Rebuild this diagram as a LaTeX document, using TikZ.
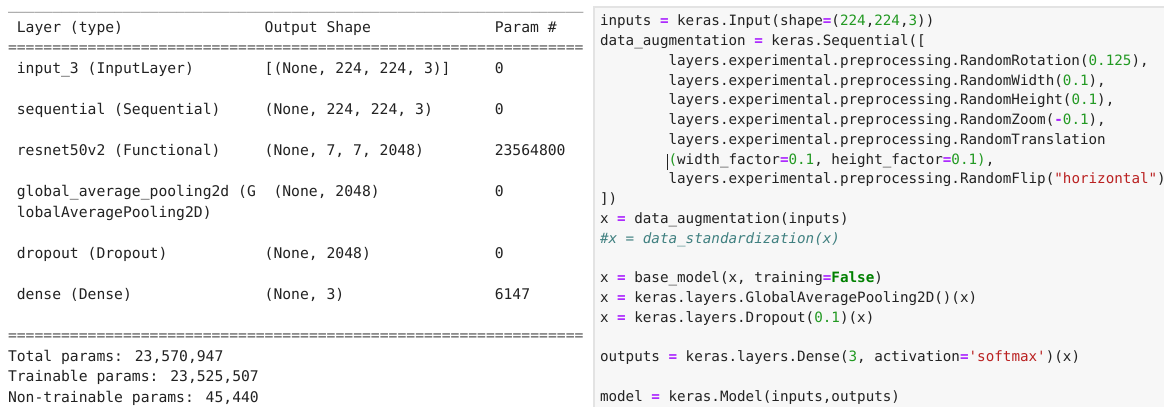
\documentclass[tikz,border=0pt]{standalone}
\usepackage{fontspec}
\newfontfamily\monofam{DejaVu Sans Mono}
\definecolor{txt}{HTML}{222222}
\definecolor{rulec}{HTML}{555555}
\definecolor{opc}{HTML}{AA22FF}
\definecolor{numc}{HTML}{229922}
\definecolor{strc}{HTML}{BA2121}
\definecolor{cmtc}{HTML}{408080}
\definecolor{kwc}{HTML}{008000}
\definecolor{cellbg}{HTML}{F7F7F7}
\definecolor{cellline}{HTML}{E3E3E3}
\newcommand\sumfont{\monofam\fontsize{11.03pt}{13pt}\selectfont}
\newcommand\codefont{\monofam\fontsize{10.68pt}{13pt}\selectfont}
\newcommand\eqop{{\color{opc}\bfseries =}}
\newcommand\mop{{\color{opc}\bfseries -}}
\newcommand\cnum[1]{{\color{numc}#1}}
\newcommand\cstr[1]{{\color{strc}#1}}
\newcommand\ckw[1]{{\color{kwc}\bfseries #1}}
\newcommand\tenEq{==========}
\newcommand\tenUs{\_\_\_\_\_\_\_\_\_\_}
\newcommand\pre{layers.experimental.preprocessing.}
\begin{document}
\begin{tikzpicture}[x=0.75pt,y=-0.75pt,
  sum/.style={anchor=base west,inner sep=0pt,outer sep=0pt,text=txt,font=\sumfont},
  sumrule/.style={sum,text=rulec},
  code/.style={anchor=base west,inner sep=0pt,outer sep=0pt,text=txt,font=\codefont}]
\useasboundingbox (0,0) rectangle (1164,407);
\fill[white] (0,0) rectangle (1164,407);

% ---- model summary (columns at 0, 1, 29, 55 characters of 8.85px) ----
\node[sumrule] (topline) at (8,9) {\tenUs\tenUs\tenUs\tenUs\tenUs\tenUs\_\_\_\_\_};
\node[sum] (h1) at (16.85,32) {Layer (type)};
\node[sum] (h2) at (264.65,32) {Output Shape};
\node[sum] (h3) at (494.75,32) {Param \#};
\node[sumrule] (eq1) at (8,52.6) {\tenEq\tenEq\tenEq\tenEq\tenEq\tenEq=====};
\node[sum] (r1a) at (16.85,73.1) {input\_3 (InputLayer)};
\node[sum] (r1b) at (264.65,73.1) {[(None, 224, 224, 3)]};
\node[sum] (r1c) at (494.75,73.1) {0};
\node[sum] (r2a) at (16.85,114.2) {sequential (Sequential)};
\node[sum] (r2b) at (264.65,114.2) {(None, 224, 224, 3)};
\node[sum] (r2c) at (494.75,114.2) {0};
\node[sum] (r3a) at (16.85,155.4) {resnet50v2 (Functional)};
\node[sum] (r3b) at (264.65,155.4) {(None, 7, 7, 2048)};
\node[sum] (r3c) at (494.75,155.4) {23564800};
\node[sum] (r4a) at (16.85,196.5) {global\_average\_pooling2d (G};
\node[sum] (r4b) at (273.5,196.5) {(None, 2048)};
\node[sum] (r4c) at (494.75,196.5) {0};
\node[sum] (r4d) at (16.85,217) {lobalAveragePooling2D)};
\node[sum] (r5a) at (16.85,258.2) {dropout (Dropout)};
\node[sum] (r5b) at (264.65,258.2) {(None, 2048)};
\node[sum] (r5c) at (494.75,258.2) {0};
\node[sum] (r6a) at (16.85,299.3) {dense (Dense)};
\node[sum] (r6b) at (264.65,299.3) {(None, 3)};
\node[sum] (r6c) at (494.75,299.3) {6147};
\node[sumrule] (eq2) at (8,340.4) {\tenEq\tenEq\tenEq\tenEq\tenEq\tenEq=====};
\node[sum] (tot) at (8,361) {Total params: 23,570,947};
\node[sum] (trn) at (8,381.5) {Trainable params: 23,525,507};
\node[sum] (ntr) at (8,402) {Non-trainable params: 45,440};

% ---- code cell ----
\path[fill=cellbg,draw=cellline,line width=0.8pt] (594,7) rectangle (1170,412);
\node[code] (c0) at (600,26) {inputs \eqop{} keras.Input(shape\eqop(\cnum{224},\cnum{224},\cnum{3}))};
\node[code] (c1) at (600,45.74) {data\_augmentation \eqop{} keras.Sequential([};
\node[code] (c2) at (668.56,65.48) {\pre RandomRotation(\cnum{0.125}),};
\node[code] (c3) at (668.56,85.22) {\pre RandomWidth(\cnum{0.1}),};
\node[code] (c4) at (668.56,104.96) {\pre RandomHeight(\cnum{0.1}),};
\node[code] (c5) at (668.56,124.7) {\pre RandomZoom(\mop\cnum{0.1}),};
\node[code] (c6) at (668.56,144.44) {\pre RandomTranslation};
\node[code] (c7) at (668.56,164.18) {\cnum{(}width\_factor\eqop\cnum{0.1}, height\_factor\eqop\cnum{0.1}\cnum{)},};
\node[code] (c8) at (668.56,183.92) {\pre RandomFlip(\cstr{"horizontal"})};
\node[code] (c9) at (600,203.66) {])};
\node[code] (c10) at (600,223.4) {x \eqop{} data\_augmentation(inputs)};
\node[code,text=cmtc,font=\codefont\itshape] (c11) at (600,243.14) {\#x = data\_standardization(x)};
\node[code] (c13) at (600,282.62) {x \eqop{} base\_model(x, training\eqop\ckw{False})};
\node[code] (c14) at (600,302.36) {x \eqop{} keras.layers.GlobalAveragePooling2D()(x)};
\node[code] (c15) at (600,322.1) {x \eqop{} keras.layers.Dropout(\cnum{0.1})(x)};
\node[code] (c17) at (600,361.58) {outputs \eqop{} keras.layers.Dense(\cnum{3}, activation\eqop\cstr{'softmax'})(x)};
\node[code] (c19) at (600,401.06) {model \eqop{} keras.Model(inputs,outputs)};
% text cursor in front of the continued argument list
\draw[txt,line width=0.9pt] (667.8,154) -- (667.8,170);
\end{tikzpicture}
\end{document}
